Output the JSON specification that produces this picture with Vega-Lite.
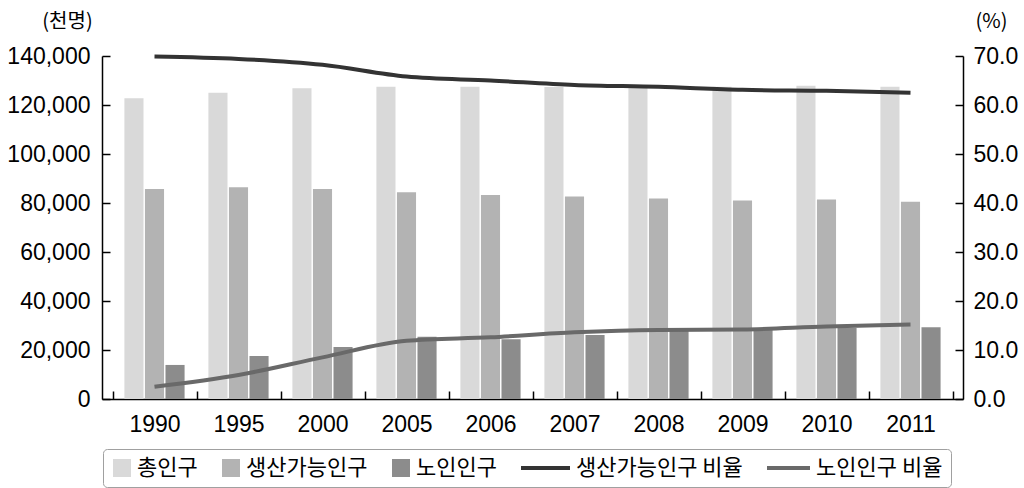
{
  "$schema": "https://vega.github.io/schema/vega-lite/v6.json",
  "width": 861,
  "height": 343,
  "autosize": {"type": "none"},
  "padding": {"left": 102, "top": 56, "right": 61, "bottom": 89},
  "background": "white",
  "config": {
    "view": {"stroke": null},
    "font": "Liberation Sans",
    "axis": {
      "domainColor": "#000000",
      "domainWidth": 1.5,
      "tickColor": "#000000",
      "tickWidth": 1.5,
      "tickSize": -8,
      "labelColor": "#000000",
      "labelFont": "Liberation Sans",
      "labelFontSize": 23,
      "grid": false,
      "titleFont": "Noto Sans CJK KR",
      "titleFontSize": 20,
      "titleFontWeight": "normal",
      "titleColor": "#000000"
    }
  },
  "datasets": {
    "bars": [
      {"year": "1990", "series": "총인구", "value": 122800},
      {"year": "1990", "series": "생산가능인구", "value": 85700},
      {"year": "1990", "series": "노인인구", "value": 13900},
      {"year": "1995", "series": "총인구", "value": 125000},
      {"year": "1995", "series": "생산가능인구", "value": 86400},
      {"year": "1995", "series": "노인인구", "value": 17550},
      {"year": "2000", "series": "총인구", "value": 126800},
      {"year": "2000", "series": "생산가능인구", "value": 85700},
      {"year": "2000", "series": "노인인구", "value": 21200},
      {"year": "2005", "series": "총인구", "value": 127400},
      {"year": "2005", "series": "생산가능인구", "value": 84350},
      {"year": "2005", "series": "노인인구", "value": 25400},
      {"year": "2006", "series": "총인구", "value": 127400},
      {"year": "2006", "series": "생산가능인구", "value": 83300},
      {"year": "2006", "series": "노인인구", "value": 24400},
      {"year": "2007", "series": "총인구", "value": 127300},
      {"year": "2007", "series": "생산가능인구", "value": 82700},
      {"year": "2007", "series": "노인인구", "value": 26100},
      {"year": "2008", "series": "총인구", "value": 127000},
      {"year": "2008", "series": "생산가능인구", "value": 81800},
      {"year": "2008", "series": "노인인구", "value": 28200},
      {"year": "2009", "series": "총인구", "value": 127400},
      {"year": "2009", "series": "생산가능인구", "value": 81000},
      {"year": "2009", "series": "노인인구", "value": 28600},
      {"year": "2010", "series": "총인구", "value": 127900},
      {"year": "2010", "series": "생산가능인구", "value": 81400},
      {"year": "2010", "series": "노인인구", "value": 29000},
      {"year": "2011", "series": "총인구", "value": 127500},
      {"year": "2011", "series": "생산가능인구", "value": 80500},
      {"year": "2011", "series": "노인인구", "value": 29300}
    ],
    "ratios": [
      {"year": "1990", "series": "생산가능인구 비율", "value": 69.9},
      {"year": "1995", "series": "생산가능인구 비율", "value": 69.4},
      {"year": "2000", "series": "생산가능인구 비율", "value": 68.2},
      {"year": "2005", "series": "생산가능인구 비율", "value": 65.8},
      {"year": "2006", "series": "생산가능인구 비율", "value": 65.0},
      {"year": "2007", "series": "생산가능인구 비율", "value": 64.1},
      {"year": "2008", "series": "생산가능인구 비율", "value": 63.7},
      {"year": "2009", "series": "생산가능인구 비율", "value": 63.1},
      {"year": "2010", "series": "생산가능인구 비율", "value": 62.9},
      {"year": "2011", "series": "생산가능인구 비율", "value": 62.5},
      {"year": "1990", "series": "노인인구 비율", "value": 2.5},
      {"year": "1995", "series": "노인인구 비율", "value": 4.9},
      {"year": "2000", "series": "노인인구 비율", "value": 8.5},
      {"year": "2005", "series": "노인인구 비율", "value": 11.9},
      {"year": "2006", "series": "노인인구 비율", "value": 12.6},
      {"year": "2007", "series": "노인인구 비율", "value": 13.6},
      {"year": "2008", "series": "노인인구 비율", "value": 14.1},
      {"year": "2009", "series": "노인인구 비율", "value": 14.2},
      {"year": "2010", "series": "노인인구 비율", "value": 14.8},
      {"year": "2011", "series": "노인인구 비율", "value": 15.2}
    ]
  },
  "layer": [
    {
      "data": {"name": "bars"},
      "mark": {"type": "bar"},
      "encoding": {
        "x": {
          "field": "year",
          "type": "nominal",
          "scale": {"paddingInner": 0, "paddingOuter": 0.125},
          "axis": {"title": null, "labelAngle": 0, "tickBand": "extent", "labelPadding": 22}
        },
        "xOffset": {
          "field": "series",
          "type": "nominal",
          "sort": ["총인구", "생산가능인구", "노인인구"],
          "scale": {"paddingInner": 0.07, "paddingOuter": 0.58}
        },
        "y": {
          "field": "value",
          "type": "quantitative",
          "scale": {"domain": [0, 140000], "nice": false},
          "axis": {
            "values": [0, 20000, 40000, 60000, 80000, 100000, 120000, 140000],
            "format": ",.0f",
            "labelPadding": 20,
            "title": "(천명)",
            "titleAngle": 0,
            "titleX": -35,
            "titleY": -35,
            "titleAlign": "center",
            "titleBaseline": "middle"
          }
        },
        "color": {
          "field": "series",
          "type": "nominal",
          "scale": {
            "domain": ["총인구", "생산가능인구", "노인인구", "생산가능인구 비율", "노인인구 비율"],
            "range": ["#d9d9d9", "#b3b3b3", "#8c8c8c", "#333333", "#696969"]
          },
          "legend": {
            "orient": "none",
            "legendX": 1,
            "legendY": 393,
            "direction": "horizontal",
            "title": null,
            "strokeColor": "#a0a0a0",
            "cornerRadius": 4,
            "padding": 8,
            "columnPadding": 22,
            "clipHeight": 22,
            "labelFont": "Noto Sans CJK KR",
            "labelFontSize": 22,
            "labelOffset": 4,
            "labelColor": "#000000",
            "labelLimit": 400,
            "symbolType": "square",
            "symbolSize": 324,
            "encode": {
              "symbols": {
                "update": {
                  "shape": {"signal": "(datum.value == '생산가능인구 비율' || datum.value == '노인인구 비율' ? 'stroke' : 'square')"},
                  "size": {"signal": "((datum.value || datum) == '생산가능인구 비율' ? 2401 : ((datum.value || datum) == '노인인구 비율' ? 1849 : 324))"},
                  "fill": {"signal": "(datum.value == '생산가능인구 비율' || datum.value == '노인인구 비율' ? 'transparent' : scale('color', datum.value))"},
                  "stroke": {"signal": "(scale('color', datum.value))"},
                  "strokeWidth": {"signal": "((datum.value || datum) == '생산가능인구 비율' || (datum.value || datum) == '노인인구 비율' ? 4 : 0)"},
                  "opacity": {"value": 1}
                }
              }
            }
          }
        }
      }
    },
    {
      "data": {"name": "ratios"},
      "mark": {"type": "line", "strokeWidth": 4, "interpolate": "monotone"},
      "encoding": {
        "x": {"field": "year", "type": "nominal"},
        "y": {
          "field": "value",
          "type": "quantitative",
          "scale": {"domain": [0, 70], "nice": false},
          "axis": {
            "orient": "right",
            "values": [0, 10, 20, 30, 40, 50, 60, 70],
            "format": ".1f",
            "labelPadding": 18,
            "title": "(%)",
            "titleAngle": 0,
            "titleX": 28,
            "titleY": -35,
            "titleAlign": "center",
            "titleBaseline": "middle"
          }
        },
        "color": {"field": "series", "type": "nominal"}
      }
    }
  ],
  "resolve": {"scale": {"y": "independent"}}
}
